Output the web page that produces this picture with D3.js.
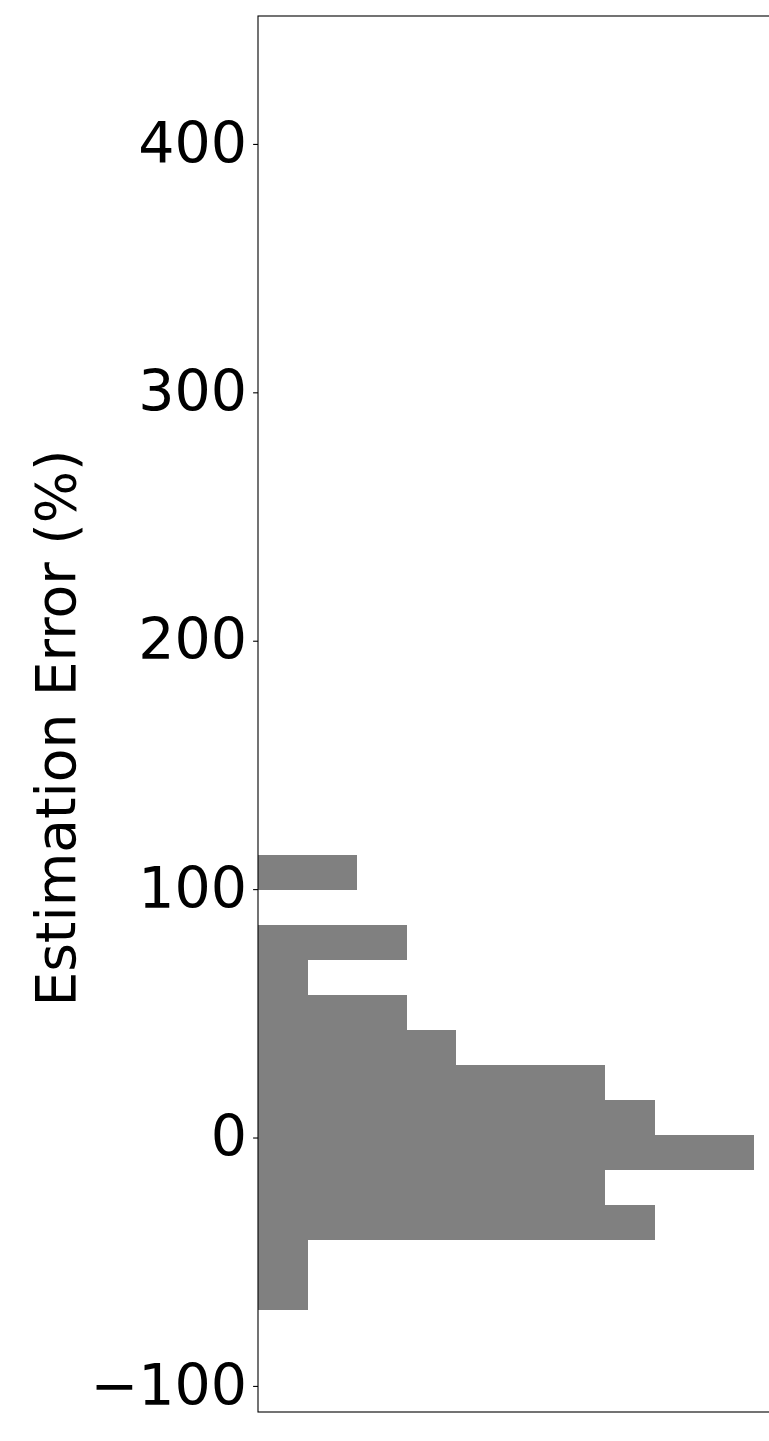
<!DOCTYPE html>
<html>
<head>
<meta charset="utf-8">
<script src="https://cdn.jsdelivr.net/npm/d3@7"></script>
<style>
  html, body { margin: 0; padding: 0; background: #fff; }
  svg { display: block; }
</style>
</head>
<body>
<script>
// Histogram bin edges (Estimation Error %), counts per bin
const binEdges = [-69.4, -55.3, -41.2, -27.1, -13.0, 1.1, 15.1, 29.2, 43.3, 57.4, 71.5, 85.6, 99.7, 113.8];
const counts = [1, 1, 8, 7, 10, 8, 7, 4, 3, 1, 3, 0, 2];
const yTicks = [-100, 0, 100, 200, 300, 400];
const yDomain = [-110.5, 451.5];
const xDomain = [0, 10.5];
const yLabel = "Estimation Error (%)";

const W = 769, H = 1441;
const mLeft = 258, mTop = 16, mBottom = 1412, mRight = 779;

const svg = d3.select("body").append("svg").attr("width", W).attr("height", H);

const y = d3.scaleLinear().domain(yDomain).range([mBottom, mTop]);
const x = d3.scaleLinear().domain(xDomain).range([mLeft, mRight]);

const bins = counts.map((c, i) => ({ lo: binEdges[i], hi: binEdges[i + 1], c }));

svg.append("g").attr("shape-rendering", "crispEdges")
  .selectAll("rect").data(bins.filter(d => d.c > 0)).join("rect")
  .attr("x", x(0))
  .attr("y", d => y(d.hi))
  .attr("width", d => x(d.c) - x(0))
  .attr("height", d => y(d.lo) - y(d.hi))
  .attr("fill", "#808080");

// frame
svg.append("rect")
  .attr("x", mLeft).attr("y", mTop)
  .attr("width", mRight - mLeft).attr("height", mBottom - mTop)
  .attr("fill", "none").attr("stroke", "#000").attr("stroke-width", 1.1);

const yAxis = d3.axisLeft(y).tickValues(yTicks).tickSize(4.9).tickPadding(6)
  .tickFormat(d => d < 0 ? "\u2212" + Math.abs(d) : String(d));
const g = svg.append("g").attr("transform", `translate(${mLeft},0)`).call(yAxis);
g.select(".domain").remove();
g.selectAll(".tick line").attr("stroke", "#000").attr("stroke-width", 1.1);
g.selectAll(".tick text")
  .attr("fill", "#000")
  .style("font-family", "'DejaVu Sans', sans-serif")
  .style("font-size", "57px");

svg.append("text")
  .attr("transform", `translate(75, ${(mTop + mBottom) / 2 + 14}) rotate(-90)`)
  .attr("text-anchor", "middle")
  .style("font-family", "'DejaVu Sans', sans-serif")
  .style("font-size", "55px")
  .attr("fill", "#000")
  .text(yLabel);
</script>
</body>
</html>
